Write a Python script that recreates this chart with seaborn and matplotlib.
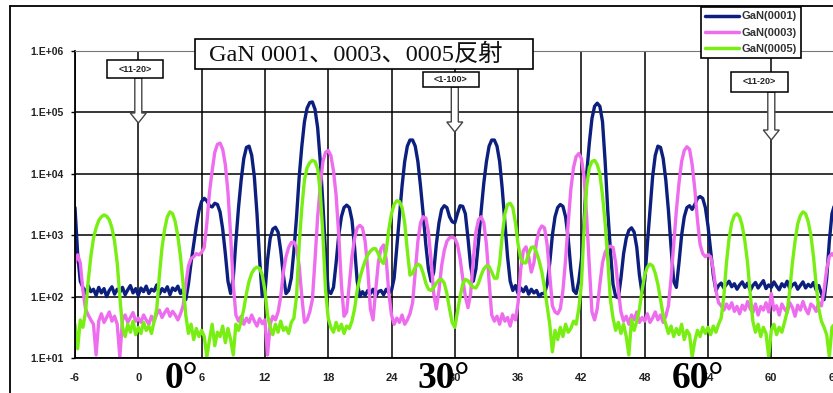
import numpy as np
import pandas as pd
import matplotlib
matplotlib.use("Agg")
import matplotlib.pyplot as plt
from matplotlib.patches import Rectangle, FancyArrow
from matplotlib.ticker import NullLocator
import seaborn as sns

# ---------------- data (log10 of intensity, every 0.25 deg from -6 to 66) ----------------
PHI_START = -6.0
PHI_STEP = 0.25

gan0001_log10 = [
    3.45, 2.70, 2.25, 2.15, 2.05, 2.18, 2.08, 2.12, 2.02, 2.15, 2.06, 2.13, 2.00, 2.10, 2.16, 2.04, 2.12, 2.07, 2.15, 2.03, 2.11, 2.18, 2.06, 2.13,
    2.02, 2.14, 2.08, 2.17, 2.05, 2.12, 2.09, 2.19, 2.04, 2.13, 2.08, 2.16, 2.03, 2.14, 2.10, 2.17, 2.05, 2.12, 1.95, 2.20, 2.55, 2.85, 3.15, 3.40,
    3.55, 3.60, 3.56, 3.48, 3.46, 3.52, 3.50, 3.38, 3.10, 2.70, 2.25, 2.05, 2.30, 2.90, 3.45, 3.90, 4.25, 4.43, 4.45, 4.30, 3.95, 3.35, 2.60, 2.00,
    2.05, 2.60, 2.95, 3.10, 3.13, 3.05, 2.75, 2.35, 2.05, 2.10, 2.30, 2.75, 3.30, 3.95, 4.45, 4.85, 5.07, 5.16, 5.17, 5.05, 4.75, 4.20, 3.50, 2.70,
    2.10, 2.05, 2.15, 2.55, 3.00, 3.30, 3.45, 3.49, 3.45, 3.25, 2.80, 2.25, 2.00, 2.08, 2.02, 2.10, 2.05, 2.12, 2.00, 2.08, 2.10, 2.03, 2.12, 2.06,
    2.10, 2.30, 2.80, 3.30, 3.80, 4.20, 4.45, 4.55, 4.55, 4.45, 4.20, 3.80, 3.35, 2.85, 2.45, 2.25, 2.40, 2.85, 3.20, 3.42, 3.48, 3.45, 3.30, 3.22,
    3.20, 3.35, 3.48, 3.47, 3.35, 2.95, 2.50, 2.25, 2.45, 2.90, 3.40, 3.85, 4.20, 4.45, 4.55, 4.55, 4.45, 4.20, 3.75, 3.20, 2.65, 2.25, 2.10, 2.18,
    2.05, 2.14, 2.08, 2.16, 2.04, 2.12, 2.06, 2.10, 2.00, 2.05, 2.05, 2.20, 2.55, 3.00, 3.30, 3.45, 3.50, 3.47, 3.30, 2.95, 2.45, 2.10, 2.05, 2.25,
    2.60, 3.20, 4.00, 4.50, 4.90, 5.10, 5.15, 5.10, 4.85, 4.20, 3.40, 2.75, 2.20, 2.00, 1.98, 2.30, 2.70, 2.95, 3.08, 3.12, 3.05, 2.80, 2.35, 2.05,
    2.25, 2.85, 3.40, 3.95, 4.30, 4.45, 4.43, 4.25, 3.90, 3.40, 2.80, 2.25, 2.15, 2.55, 3.00, 3.30, 3.45, 3.48, 3.42, 3.50, 3.60, 3.63, 3.60, 3.45,
    3.15, 2.75, 2.35, 2.10, 2.18, 2.22, 2.14, 2.20, 2.25, 2.16, 2.21, 2.12, 2.19, 2.24, 2.15, 2.22, 2.10, 2.18, 2.23, 2.14, 2.20, 2.26, 2.13, 2.19,
    2.15, 2.24, 2.17, 2.11, 2.21, 2.16, 2.25, 2.13, 2.19, 2.22, 2.12, 2.18, 2.24, 2.14, 2.20, 2.16, 2.23, 2.11, 2.18, 2.05, 1.95, 2.30, 2.90, 3.35,
    3.50,
]

gan0003_log10 = [
    2.55, 2.68, 2.55, 2.10, 1.80, 1.70, 1.62, 1.55, 1.05, 1.60, 1.72, 1.58, 1.66, 1.75, 1.60, 1.68, 1.55, 1.02, 1.62, 1.70, 1.58, 1.66, 1.74, 1.60,
    1.65, 1.58, 1.70, 1.62, 1.55, 1.68, 1.60, 1.72, 1.78, 1.66, 1.74, 1.80, 1.68, 1.76, 1.70, 1.62, 1.72, 1.85, 2.20, 2.50, 2.62, 2.65, 2.70, 2.68,
    2.72, 2.80, 3.20, 3.70, 4.05, 4.35, 4.48, 4.50, 4.40, 4.15, 3.70, 3.00, 2.20, 1.70, 1.60, 1.68, 1.55, 1.65, 1.58, 1.70, 1.60, 1.52, 1.64, 1.56,
    1.62, 1.05, 1.55, 1.68, 1.62, 1.75, 2.00, 2.40, 2.65, 2.80, 2.88, 2.89, 2.80, 2.50, 2.00, 1.58, 1.62, 1.75, 1.95, 2.60, 3.30, 3.80, 4.20, 4.35,
    4.38, 4.30, 4.05, 3.65, 3.00, 2.20, 1.68, 1.75, 2.20, 2.65, 2.95, 3.12, 3.16, 3.12, 2.90, 2.45, 1.80, 1.62, 2.10, 2.55, 2.78, 2.84, 2.60, 2.05,
    1.70, 1.55, 1.65, 1.58, 1.70, 1.55, 1.62, 1.72, 1.90, 2.40, 2.90, 3.20, 3.30, 3.28, 3.05, 2.60, 2.05, 1.80, 2.10, 2.50, 2.75, 2.90, 2.96, 2.97,
    2.95, 2.85, 2.62, 2.30, 2.00, 1.82, 2.05, 2.60, 3.05, 3.25, 3.30, 3.20, 2.85, 2.25, 1.70, 1.60, 1.68, 1.55, 1.72, 1.60, 1.66, 1.52, 1.70, 1.62,
    1.90, 2.45, 2.75, 2.81, 2.65, 2.40, 2.55, 2.90, 3.08, 3.15, 3.12, 2.85, 2.35, 1.85, 1.75, 1.72, 1.80, 2.10, 2.60, 3.20, 3.75, 4.10, 4.28, 4.33,
    4.25, 3.95, 3.30, 2.50, 1.75, 1.62, 1.80, 2.20, 2.55, 2.72, 2.80, 2.82, 2.80, 2.55, 2.10, 1.75, 1.60, 1.68, 1.55, 1.70, 1.62, 1.75, 1.58, 1.66,
    1.60, 1.72, 1.58, 1.65, 1.75, 1.62, 1.70, 1.58, 1.68, 1.85, 2.30, 2.85, 3.40, 3.85, 4.20, 4.38, 4.44, 4.40, 4.15, 3.75, 3.25, 2.85, 2.70, 2.65,
    2.68, 2.65, 2.45, 2.10, 1.90, 1.85, 1.78, 1.88, 1.80, 1.90, 1.76, 1.84, 1.72, 1.86, 1.78, 1.92, 1.80, 1.74, 1.88, 1.70, 1.84, 1.78, 1.90, 1.75,
    2.05, 1.78, 1.85, 1.70, 1.88, 1.80, 1.74, 1.90, 1.82, 1.68, 1.86, 1.78, 1.92, 1.80, 1.72, 1.88, 1.84, 1.76, 1.90, 1.85, 2.10, 2.45, 2.65, 2.70,
    2.65,
]

gan0005_log10 = [
    1.55, 1.15, 1.62, 1.50, 1.75, 2.25, 2.65, 2.95, 3.12, 3.24, 3.30, 3.33, 3.31, 3.25, 3.12, 2.90, 2.55, 2.00, 1.50, 1.35, 1.55, 1.42, 1.60, 1.38,
    1.50, 1.40, 1.58, 1.45, 1.52, 1.40, 1.60, 1.80, 2.35, 2.80, 3.10, 3.30, 3.38, 3.35, 3.22, 2.98, 2.65, 2.20, 1.70, 1.40, 1.55, 1.30, 1.48, 1.35,
    1.45, 1.35, 1.02, 1.30, 1.55, 1.20, 1.42, 1.35, 1.52, 1.25, 1.48, 1.30, 1.05, 1.55, 1.45, 1.60, 1.80, 2.05, 2.25, 2.38, 2.45, 2.48, 2.46, 2.35,
    2.10, 1.70, 1.50, 1.38, 1.55, 1.42, 1.60, 1.45, 1.50, 1.40, 1.58, 1.65, 2.00, 2.85, 3.45, 3.90, 4.10, 4.18, 4.22, 4.20, 4.08, 3.70, 3.00, 2.10,
    1.65, 1.50, 1.42, 1.58, 1.45, 1.55, 1.40, 1.52, 1.48, 1.60, 1.80, 2.10, 2.30, 2.45, 2.58, 2.68, 2.74, 2.78, 2.78, 2.70, 2.58, 2.54, 2.75, 3.10,
    3.35, 3.50, 3.56, 3.55, 3.45, 3.20, 2.75, 2.35, 2.38, 2.48, 2.53, 2.50, 2.38, 2.22, 2.12, 2.10, 2.15, 2.22, 2.27, 2.28, 2.22, 2.05, 1.80, 1.58,
    1.50, 1.75, 2.00, 2.20, 2.28, 2.26, 2.20, 2.15, 2.14, 2.22, 2.35, 2.45, 2.50, 2.49, 2.40, 2.30, 2.30, 2.55, 3.00, 3.35, 3.50, 3.52, 3.45, 3.20,
    2.85, 2.62, 2.55, 2.55, 2.70, 2.80, 2.81, 2.72, 2.58, 2.40, 2.15, 1.85, 1.55, 1.10, 1.45, 1.30, 1.50, 1.35, 1.55, 1.42, 1.48, 1.60, 1.55, 1.80,
    2.20, 3.10, 3.80, 4.10, 4.20, 4.22, 4.15, 4.00, 3.65, 3.20, 2.60, 1.95, 1.65, 1.45, 1.58, 1.40, 1.55, 1.35, 1.05, 1.62, 1.45, 1.60, 1.80, 2.10,
    2.35, 2.48, 2.53, 2.50, 2.38, 2.20, 1.95, 1.70, 1.55, 1.40, 1.52, 1.35, 1.48, 1.38, 1.55, 1.30, 1.45, 1.38, 1.02, 1.28, 1.45, 1.35, 1.50, 1.40,
    1.50, 1.38, 1.52, 1.42, 1.55, 1.65, 2.00, 2.55, 2.95, 3.20, 3.32, 3.35, 3.30, 3.15, 2.90, 2.55, 2.05, 1.60, 1.42, 1.55, 1.35, 1.50, 1.40, 1.02,
    1.45, 1.55, 1.38, 1.50, 1.42, 1.58, 1.75, 2.10, 2.55, 2.90, 3.18, 3.32, 3.38, 3.35, 3.22, 3.00, 2.65, 2.20, 1.80, 1.60, 1.50, 1.38, 1.02, 1.50,
    1.55,
]

series_names = ["GaN(0001)", "GaN(0003)", "GaN(0005)"]
series_colors = ["#0c1f7e", "#ee6cee", "#78ee12"]

x_ticks = [-6, 0, 6, 12, 18, 24, 30, 36, 42, 48, 54, 60, 66]
x_tick_labels = ["-6", "0", "6", "12", "18", "24", "30", "36", "42", "48", "54", "60", "66"]
y_ticks = [1e1, 1e2, 1e3, 1e4, 1e5, 1e6]
y_tick_labels = ["1.E+01", "1.E+02", "1.E+03", "1.E+04", "1.E+05", "1.E+06"]

title_text = "GaN 0001、0003、0005反射"
direction_labels = ["<11-20>", "<1-100>", "<11-20>"]
direction_angles = [0, 30, 60]
angle_marks = ["0°", "30°", "60°"]

# ---------------- build long-form table ----------------
sns.set_theme(style="white")
plt.rcParams["font.family"] = ["Liberation Sans", "DejaVu Sans"]

frames = []
for name, vals in zip(series_names, [gan0001_log10, gan0003_log10, gan0005_log10]):
    vals = np.asarray(vals, dtype=float)
    phi = PHI_START + PHI_STEP * np.arange(len(vals))
    frames.append(pd.DataFrame({"phi": phi, "intensity": 10.0 ** vals, "series": name}))
df = pd.concat(frames, ignore_index=True)

# ---------------- figure / axes ----------------
W, H = 833, 393
fig = plt.figure(figsize=(W / 100, H / 100), dpi=100)
fig.patch.set_facecolor("white")

AX_L, AX_R, AX_T, AX_B = 75, 834.6, 51, 358
ax = fig.add_axes([AX_L / W, 1 - AX_B / H, (AX_R - AX_L) / W, (AX_B - AX_T) / H])
ax.set_yscale("log")

sns.lineplot(data=df, x="phi", y="intensity", hue="series", hue_order=series_names,
             palette=dict(zip(series_names, series_colors)), linewidth=2.4,
             estimator=None, sort=False, ax=ax, legend=True)

ax.set_xlim(-6, 66)
ax.set_ylim(1e1, 1e6)
ax.set_xticks(x_ticks)
ax.set_xticklabels(x_tick_labels)
ax.set_yticks(y_ticks)
ax.set_yticklabels(y_tick_labels)
ax.yaxis.set_minor_locator(NullLocator())
ax.xaxis.set_minor_locator(NullLocator())
ax.set_xlabel("")
ax.set_ylabel("")

ax.grid(True, which="major", color="black", linewidth=1.1)
ax.set_axisbelow(True)
for side in ["left", "bottom"]:
    ax.spines[side].set_visible(True)
    ax.spines[side].set_color("black")
    ax.spines[side].set_linewidth(1.3)
ax.spines["top"].set_color("#777777")
ax.spines["top"].set_linewidth(0.8)
ax.spines["right"].set_visible(False)

ax.tick_params(axis="y", which="major", left=True, length=3, width=1, color="black",
               pad=5, labelsize=7.5, labelcolor="#222222")
ax.tick_params(axis="x", which="major", bottom=True, length=0, pad=11,
               labelsize=8, labelcolor="#222222")
for lbl in ax.get_xticklabels() + ax.get_yticklabels():
    lbl.set_fontweight("bold")

# legend
handles, labels = ax.get_legend_handles_labels()
for h in handles:
    h.set_linewidth(2.5)
leg = ax.legend(handles, labels, loc="upper left",
                bbox_to_anchor=(701 / W, 1 - 7 / H), bbox_transform=fig.transFigure,
                borderaxespad=0, frameon=True, fancybox=False, framealpha=1,
                edgecolor="black", facecolor="white", handlelength=3.0,
                handletextpad=0.2, borderpad=0.4, labelspacing=0.55,
                prop={"family": "Liberation Sans", "weight": "bold", "size": 8})
leg.get_frame().set_linewidth(1.2)
for t in leg.get_texts():
    t.set_color("#333333")

# ---------------- overlay annotations (pixel coordinates) ----------------
ov = fig.add_axes([0, 0, 1, 1], zorder=5)
ov.set_xlim(0, W)
ov.set_ylim(H, 0)
ov.axis("off")
ov.patch.set_visible(False)

# outer chart-area frame (left and top edges visible)
ov.plot([10, 10], [H + 5, 6], color="black", lw=1.3, clip_on=False)
ov.plot([10, W + 5], [6, 6], color="black", lw=1.3, clip_on=False)

# title box
ov.add_patch(Rectangle((195, 39), 338, 30, facecolor="white", edgecolor="black", lw=1.2))
ov.text(209, 55, title_text, ha="left", va="center", fontsize=17.5, color="#111111",
        family=["Liberation Serif", "Noto Sans CJK JP"])


def data_x_to_px(xv):
    return AX_L + (xv + 6) * (AX_R - AX_L) / 72.0


label_boxes = [(107, 60, 56, 18), (423, 72, 56, 15), (731, 72, 57, 20)]
arrow_ends = [123, 132, 140]
for lab, ang, (bx, by, bw, bh), yend in zip(direction_labels, direction_angles, label_boxes, arrow_ends):
    xa = data_x_to_px(ang)
    ov.add_patch(FancyArrow(xa, by + bh, 0, yend - (by + bh), width=7, head_width=16,
                            head_length=10, length_includes_head=True,
                            facecolor="white", edgecolor="#444444", lw=1.0))
    ov.add_patch(Rectangle((bx, by), bw, bh, facecolor="white", edgecolor="black", lw=1.1))
    ov.text(bx + bw / 2, by + bh / 2, lab, ha="center", va="center", fontsize=6.5,
            fontweight="bold", color="#222222", family="Liberation Sans")

mark_centers = [181, 444, 698]
for mark, cx in zip(angle_marks, mark_centers):
    ov.text(cx, 388, mark, ha="center", va="baseline", fontsize=27, fontweight="bold",
            color="black", family="Liberation Serif")

fig.savefig("out.png", dpi=100, facecolor="white")
